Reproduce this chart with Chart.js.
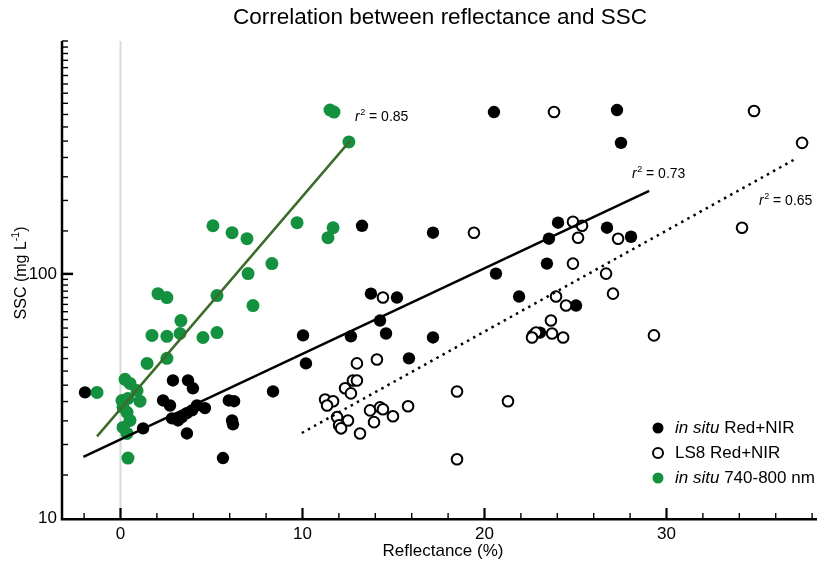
<!DOCTYPE html>
<html><head><meta charset="utf-8">
<script src="https://cdn.jsdelivr.net/npm/chart.js@4/dist/chart.umd.min.js"></script>
<style>html,body{margin:0;padding:0;background:#fff;}canvas{display:block;}</style>
</head><body>
<canvas id="c" width="817" height="567"></canvas>
<script>
// ---------- data ----------
const greenX = [-1.29, 0.25, 0.52, 0.91, 0.08, 0.41, 1.07, 0.14, 0.36, 0.52, 0.14, 0.36, 0.41, 1.46, 2.55, 1.73, 2.55, 3.27, 3.32, 4.53, 5.30, 2.06, 2.55, 5.30, 7.28, 7.01, 8.32, 5.08, 6.13, 6.95, 9.70, 11.68, 11.40, 12.55, 11.51, 11.73];
const greenY = [32.7, 37.0, 35.6, 33.3, 30.3, 30.9, 30.1, 28.4, 27.1, 25.1, 23.5, 22.2, 17.6, 43.0, 45.1, 56.0, 55.5, 57.0, 64.4, 54.9, 57.5, 83.0, 80.0, 81.5, 74.2, 100.3, 110.2, 157.5, 147.5, 139.4, 162.1, 154.6, 140.7, 347.3, 469.3, 460.5];

const blackX = [-1.95, 2.88, 3.71, 3.98, 2.34, 2.72, 2.83, 3.16, 3.38, 3.65, 3.93, 4.20, 4.64, 1.24, 3.65, 5.95, 6.24, 6.13, 6.18, 5.63, 8.38, 10.19, 10.03, 12.66, 14.26, 14.59, 13.76, 15.19, 13.27, 15.85, 17.17, 17.17, 20.52, 27.28, 27.50, 24.04, 23.54, 26.73, 28.05, 20.63, 23.43, 21.90, 25.03, 23.05];
const blackY = [32.7, 36.6, 36.6, 34.0, 30.3, 28.9, 25.6, 25.1, 25.9, 26.9, 27.6, 28.9, 28.2, 23.3, 22.2, 30.3, 30.1, 25.1, 24.2, 17.6, 33.0, 43.0, 56.0, 55.5, 64.4, 57.0, 83.0, 80.0, 157.5, 45.1, 54.9, 147.5, 460.5, 469.3, 344.2, 162.1, 139.4, 154.6, 142.0, 100.3, 110.2, 80.8, 74.2, 57.5];

const ls8X = [14.42, 12.99, 14.09, 12.77, 12.99, 12.34, 12.66, 11.24, 11.68, 11.35, 13.71, 14.26, 14.42, 14.97, 15.80, 11.90, 12.50, 12.01, 12.12, 13.93, 13.16, 18.49, 21.29, 18.49, 22.66, 22.83, 23.82, 34.81, 37.45, 19.42, 24.86, 25.36, 25.14, 27.34, 34.15, 24.86, 26.68, 27.06, 23.93, 24.48, 23.65, 22.61, 23.71, 24.32, 29.31];
const ls8Y = [80.0, 43.0, 44.6, 36.6, 36.6, 34.0, 32.4, 30.6, 30.1, 28.9, 27.6, 28.4, 27.9, 26.1, 28.7, 25.9, 25.1, 24.0, 23.3, 24.7, 22.2, 33.0, 30.1, 17.4, 56.0, 57.5, 460.5, 464.9, 344.2, 147.5, 163.6, 157.5, 140.7, 139.4, 154.6, 110.2, 100.3, 83.0, 80.8, 74.2, 64.4, 54.9, 57.0, 54.9, 56.0];

const greenFitX = [-1.29, 12.61];
const greenFitY = [21.6, 350.6];
const blackFitX = [-2.04, 29.05];
const blackFitY = [17.8, 218.9];
const ls8FitX = [9.96, 37.06];
const ls8FitY = [22.3, 295.1];

const r2Labels = ['0.85', '0.73', '0.65'];

const xTicks = [-2, 0, 2, 4, 6, 8, 10, 12, 14, 16, 18, 20, 22, 24, 26, 28, 30, 32, 34, 36, 38];
const xTickLabels = [0, 10, 20, 30];
const yTicks = [10, 15, 20, 25, 30, 35, 40, 45, 50, 55, 60, 65, 70, 75, 80, 85, 90, 95, 100, 150, 200, 250, 300, 350, 400, 450, 500, 550, 600, 650, 700, 750, 800, 850, 900];
const yTickLabels = [10, 100];

// ---------- helpers ----------
const FONT = '"Liberation Sans", Arial, Helvetica, sans-serif';
const GREEN = '#14913f';
const GREEN_LINE = '#3d6b2b';
function pts(xs, ys) { return xs.map((x, i) => ({ x: x, y: ys[i] })); }

const L = 62, R = 817, T = 41, B = 518;

const decor = {
  id: 'decor',
  beforeDatasetsDraw(chart) {
    const ctx = chart.ctx, a = chart.chartArea, xs = chart.scales.x;
    const px = xs.getPixelForValue(0);
    ctx.save();
    ctx.strokeStyle = '#dadada'; ctx.lineWidth = 2;
    ctx.beginPath(); ctx.moveTo(px, a.top); ctx.lineTo(px, a.bottom); ctx.stroke();
    ctx.restore();
  },
  afterDraw(chart) {
    const ctx = chart.ctx, a = chart.chartArea, xs = chart.scales.x, ys = chart.scales.y;
    ctx.save();
    // axes
    ctx.strokeStyle = '#000'; ctx.lineWidth = 2.5; ctx.lineCap = 'butt';
    ctx.beginPath(); ctx.moveTo(a.left, a.top); ctx.lineTo(a.left, a.bottom + 1.2); ctx.lineTo(a.right, a.bottom + 1.2); ctx.stroke();
    // x ticks (inward)
    xTicks.forEach(v => {
      const p = xs.getPixelForValue(v);
      const major = xTickLabels.includes(v);
      ctx.lineWidth = major ? 2.2 : 1.4;
      ctx.beginPath(); ctx.moveTo(p, a.bottom); ctx.lineTo(p, a.bottom - (major ? 10 : 5)); ctx.stroke();
    });
    // y ticks (inward)
    yTicks.forEach(v => {
      if (v === 10) return;
      const p = ys.getPixelForValue(v);
      const major = yTickLabels.includes(v);
      ctx.lineWidth = major ? 2.5 : 1.4;
      ctx.beginPath(); ctx.moveTo(a.left, p); ctx.lineTo(a.left + (major ? 11 : 6), p); ctx.stroke();
    });

    ctx.fillStyle = '#000';
    // title
    ctx.font = '22.5px ' + FONT; ctx.textAlign = 'center'; ctx.textBaseline = 'middle';
    ctx.fillText('Correlation between reflectance and SSC', 440, 18);
    // x axis title
    ctx.font = '17px ' + FONT;
    ctx.fillText('Reflectance (%)', 443, 551);
    // y axis title with superscript
    ctx.save();
    ctx.translate(20, 273); ctx.rotate(-Math.PI / 2);
    const big = '16px ' + FONT, small = '10.5px ' + FONT;
    ctx.font = big; const w1 = ctx.measureText('SSC (mg L').width;
    ctx.font = small; const w2 = ctx.measureText('-1').width;
    ctx.font = big; const w3 = ctx.measureText(')').width;
    let sx = -(w1 + w2 + w3) / 2;
    ctx.textAlign = 'left'; ctx.textBaseline = 'alphabetic';
    ctx.font = big; ctx.fillText('SSC (mg L', sx, 6); sx += w1;
    ctx.font = small; ctx.fillText('-1', sx, -1); sx += w2;
    ctx.font = big; ctx.fillText(')', sx, 6);
    ctx.restore();

    // r^2 labels
    function r2(text, x, y) {
      ctx.textAlign = 'left'; ctx.textBaseline = 'alphabetic';
      ctx.font = 'italic 14px ' + FONT; ctx.fillText('r', x, y); let cx = x + ctx.measureText('r').width + 0.5;
      ctx.font = '9px ' + FONT; ctx.fillText('2', cx, y - 6); cx += ctx.measureText('2').width;
      ctx.font = '14px ' + FONT; ctx.fillText(' = ' + text, cx, y);
    }
    r2(r2Labels[0], 355, 121);
    r2(r2Labels[1], 632, 178);
    r2(r2Labels[2], 759, 205);

    // legend
    const lx = 658, ly = [428, 453, 478];
    ctx.lineWidth = 2;
    ctx.beginPath(); ctx.arc(lx, ly[0], 5.5, 0, Math.PI * 2); ctx.fillStyle = '#000'; ctx.fill();
    ctx.beginPath(); ctx.arc(lx, ly[1], 5, 0, Math.PI * 2); ctx.fillStyle = '#fff'; ctx.fill(); ctx.strokeStyle = '#000'; ctx.stroke();
    ctx.beginPath(); ctx.arc(lx, ly[2], 5.5, 0, Math.PI * 2); ctx.fillStyle = GREEN; ctx.fill();
    ctx.fillStyle = '#000'; ctx.textAlign = 'left'; ctx.textBaseline = 'middle';
    function leg(it, rest, y) {
      let cx = 675;
      if (it) { ctx.font = 'italic 17px ' + FONT; ctx.fillText(it, cx, y); cx += ctx.measureText(it).width; }
      ctx.font = '17px ' + FONT; ctx.fillText(rest, cx, y);
    }
    leg('in situ', ' Red+NIR', ly[0]);
    leg('', 'LS8 Red+NIR', ly[1]);
    leg('in situ', ' 740-800 nm', ly[2]);
    ctx.restore();
  }
};

new Chart(document.getElementById('c'), {
  type: 'scatter',
  data: {
    datasets: [
      { type: 'line', data: pts(greenFitX, greenFitY), borderColor: GREEN_LINE, borderWidth: 2.5, pointRadius: 0, fill: false },
      { type: 'line', data: pts(blackFitX, blackFitY), borderColor: '#000', borderWidth: 2.5, pointRadius: 0, fill: false },
      { type: 'line', data: pts(ls8FitX, ls8FitY), borderColor: '#000', borderWidth: 2.5, borderDash: [2.5, 4.5], pointRadius: 0, fill: false },
      { label: 'in situ 740-800 nm', data: pts(greenX, greenY), backgroundColor: GREEN, borderColor: GREEN, borderWidth: 0, pointRadius: 6.5 },
      { label: 'LS8 Red+NIR', data: pts(ls8X, ls8Y), backgroundColor: '#fff', borderColor: '#000', borderWidth: 2, pointRadius: 5.3 },
      { label: 'in situ Red+NIR', data: pts(blackX, blackY), backgroundColor: '#000', borderColor: '#000', borderWidth: 0, pointRadius: 6.2 }
    ]
  },
  options: {
    responsive: false, animation: false, devicePixelRatio: 1,
    layout: { autoPadding: false, padding: { top: T, left: 0, right: 0, bottom: 0 } },
    plugins: { legend: { display: false }, tooltip: { enabled: false }, title: { display: false } },
    scales: {
      x: {
        type: 'linear', min: (L - 120.5) / 18.2, max: (R - 120.5) / 18.2,
        afterBuildTicks: s => { s.ticks = xTicks.map(v => ({ value: v })); },
        afterFit: s => { s.height = 567 - B; s.paddingLeft = 0; s.paddingRight = 0; },
        grid: { display: false, drawTicks: false }, border: { display: false },
        ticks: { autoSkip: false, maxRotation: 0, padding: 6, color: '#000', font: { family: FONT, size: 17 },
          callback: v => xTickLabels.includes(v) ? String(v) : '' }
      },
      y: {
        type: 'logarithmic', min: 10, max: 900,
        afterBuildTicks: s => { s.ticks = yTicks.map(v => ({ value: v })); },
        afterFit: s => { s.width = L; s.paddingTop = 0; s.paddingBottom = 0; },
        grid: { display: false, drawTicks: false }, border: { display: false },
        ticks: { autoSkip: false, padding: 5, color: '#000', font: { family: FONT, size: 17 },
          callback: v => yTickLabels.includes(v) ? String(v) : '' }
      }
    }
  },
  plugins: [decor]
});
</script>
</body></html>
